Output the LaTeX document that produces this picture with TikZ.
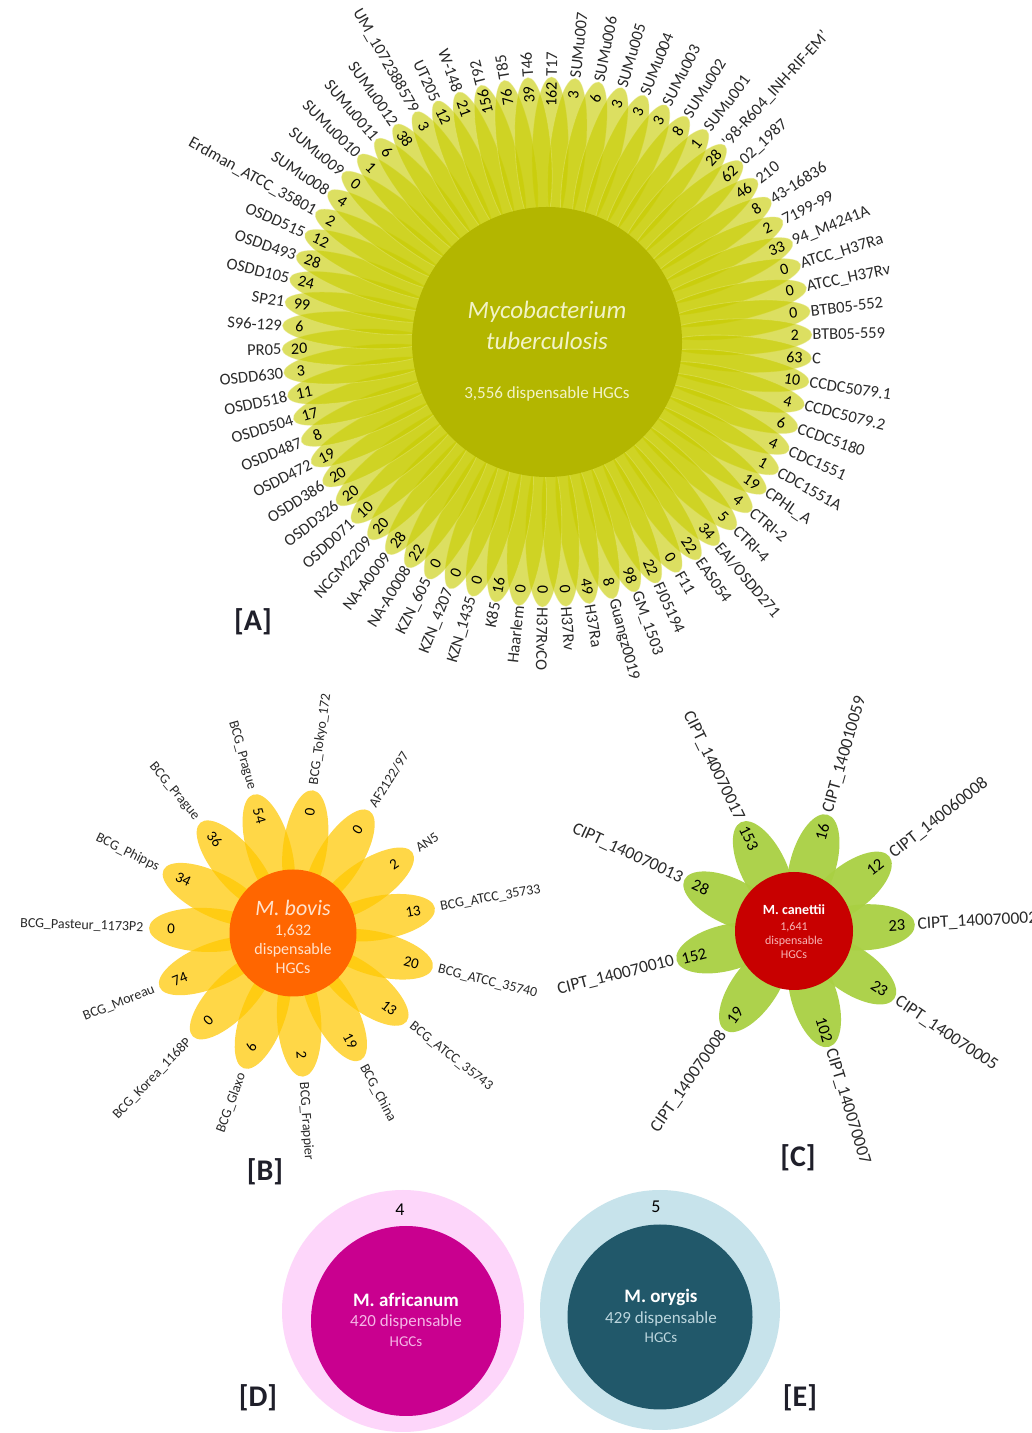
\documentclass[tikz,border=0pt]{standalone}
\usepackage{fontspec}
\setmainfont{Carlito}
\usetikzlibrary{positioning}

\definecolor{petalolive}{HTML}{C8CC00}
\definecolor{petaledge}{HTML}{E4E67A}
\definecolor{coreolive}{HTML}{B3B600}
\definecolor{coretextA}{HTML}{F2F3C6}
\definecolor{petalyellow}{HTML}{FFC800}
\definecolor{coreorange}{HTML}{FF6600}
\definecolor{coretextB}{HTML}{FFE2CC}
\definecolor{petallime}{HTML}{A9D043}
\definecolor{corered}{HTML}{C80000}
\definecolor{coretextC}{HTML}{F7B5B5}
\definecolor{ringpink}{HTML}{FDD6FA}
\definecolor{coremagenta}{HTML}{C9008F}
\definecolor{coretextD}{HTML}{F5B5E6}
\definecolor{ringblue}{HTML}{C7E3EB}
\definecolor{coreteal}{HTML}{21586A}
\definecolor{coretextE}{HTML}{BCD6DE}
\definecolor{labelgray}{HTML}{2A2A2A}
\definecolor{tagdark}{HTML}{1F1F2A}

\begin{document}
\begin{tikzpicture}[x=1pt,y=1pt]
  \tikzset{PetalAStyle/.style = {
    fill          = petalolive,
    fill opacity  = 0.62,
    draw          = petaledge,
    draw opacity  = 0.45,
    line width    = 0.8pt
    }
  }
  \tikzset{PetalBStyle/.style = {
    fill          = petalyellow,
    fill opacity  = 0.72
    }
  }
  \tikzset{PetalCStyle/.style = {
    fill          = petallime,
    fill opacity  = 0.95
    }
  }
  \tikzset{CoreStyle/.style = {
    shape         = circle,
    inner sep     = 0pt,
    outer sep     = 0pt
    }
  }
  \tikzset{StrainStyle/.style = {
    text          = labelgray,
    inner sep     = 0.5pt
    }
  }
  \tikzset{CountStyle/.style = {
    text          = black,
    inner sep     = 0pt
    }
  }
  \tikzset{TagStyle/.style = {
    text          = tagdark,
    font          = \bfseries\fontsize{30}{30}\selectfont
    }
  }

  \fill[white] (0,0) rectangle (1032,1433);
  \clip (0,0) rectangle (1032,1433);

  % [A] M. tuberculosis
  \def\mtblist{T17/162, SUMu007/3, SUMu006/6, SUMu005/3, SUMu004/3, SUMu003/3,
    SUMu002/8, SUMu001/1, '98-R604\_INH-RIF-EM'/28, 02\_1987/62, 210/46,
    43-16836/8, 7199-99/2, 94\_M4241A/33, ATCC\_H37Ra/0, ATCC\_H37Rv/0,
    BTB05-552/0, BTB05-559/2, C/63, CCDC5079.1/10, CCDC5079.2/4, CCDC5180/6,
    CDC1551/4, CDC1551A/1, CPHL\_A/19, CTRI-2/4, CTRI-4/5, {EAI/OSDD271}/34,
    EAS054/22, F11/0, FJ05194/22, GM\_1503/98, Guangz0019/8, H37Ra/49,
    H37Rv/0, H37RvCO/0, Haarlem/0, K85/16, KZN\_1435/0, KZN\_4207/0,
    KZN\_605/0, NA-A0008/22, NA-A0009/28, NCGM2209/20, OSDD071/10,
    OSDD326/20, OSDD386/20, OSDD472/19, OSDD487/8, OSDD504/17, OSDD518/11,
    OSDD630/3, PR05/20, S96-129/6, SP21/99, OSDD105/24, OSDD493/28,
    OSDD515/12, Erdman\_ATCC\_35801/2, SUMu008/4, SUMu009/0, SUMu0010/1,
    SUMu0011/6, SUMu0012/38, UM\_1072388579/3, UT205/12, W-148/21, T92/156,
    T85/76, T46/39}
  \begin{scope}[shift={(547,1091)}]
    \foreach \lab/\num [count=\i] in \mtblist {
      \pgfmathsetmacro\petang{89-(\i-1)*(360/70)}
      \filldraw[PetalAStyle, rotate=\petang] (188,0) ellipse [x radius=77, y radius=18];
    }
  \end{scope}
  \node[CoreStyle, fill=coreolive, minimum size=270pt] (mtbcore) at (547,1091) {};
  \begin{scope}[shift={(547,1091)}]
    \foreach \lab/\num [count=\i] in \mtblist {
      \pgfmathsetmacro\petang{89-(\i-1)*(360/70)}
      \pgfmathtruncatemacro\flip{and(\petang<-93,\petang>-254)}
      \ifnum\flip=1 \pgfmathsetmacro\labrot{\petang+180}\def\labanc{east}\else\let\labrot\petang\def\labanc{west}\fi
      \node[StrainStyle, font=\fontsize{16.5}{16.5}\selectfont, anchor=\labanc, rotate=\labrot] (mtb-\i) at (\petang:265) {\lab};
      \node[CountStyle, font=\fontsize{16}{16}\selectfont, rotate=\labrot] (mtbc-\i) at (\petang:248) {\num};
    }
  \end{scope}
  \node[align=center, text=coretextA, font=\itshape\fontsize{25}{31}\selectfont] (mtbname) at (547,1108) {Mycobacterium\\tuberculosis};
  \node[text=coretextA, font=\fontsize{17}{17}\selectfont] (mtbhgc) at (547,1039) {3,556 dispensable HGCs};

  % [B] M. bovis
  \def\bovlist{BCG\_Tokyo\_172/0, {AF2122/97}/0, AN5/2, BCG\_ATCC\_35733/13,
    BCG\_ATCC\_35740/20, BCG\_ATCC\_35743/13, BCG\_China/19, BCG\_Frappier/2,
    BCG\_Glaxo/6, BCG\_Korea\_1168P/0, BCG\_Moreau/74, BCG\_Pasteur\_1173P2/0,
    BCG\_Phipps/34, BCG\_Prague/36, BCG\_Prague/54}
  \begin{scope}
    \clip (0,0) rectangle (541,1433);
    \begin{scope}[shift={(293,500)}]
      \foreach \lab/\num [count=\i] in \bovlist {
        \pgfmathsetmacro\petang{82-(\i-1)*24}
        \fill[PetalBStyle, rotate=\petang] (88,0) ellipse [x radius=56, y radius=22];
      }
    \end{scope}
    \node[CoreStyle, fill=coreorange, minimum size=127pt] (bovcore) at (293,500) {};
    \begin{scope}[shift={(293,500)}]
      \foreach \lab/\num [count=\i] in \bovlist {
        \pgfmathsetmacro\petang{82-(\i-1)*24}
        \pgfmathtruncatemacro\flip{\petang<-90}
        \ifnum\flip=1 \pgfmathsetmacro\labrot{\petang+180}\def\labanc{east}\else\let\labrot\petang\def\labanc{west}\fi
        \node[StrainStyle, font=\fontsize{14}{14}\selectfont, anchor=\labanc, rotate=\labrot] (bov-\i) at (\petang:149) {\lab};
        \node[CountStyle, font=\fontsize{15}{15}\selectfont, rotate=\labrot] (bovc-\i) at (\petang:122) {\num};
      }
    \end{scope}
  \end{scope}
  \node[text=coretextB, font=\itshape\fontsize{22}{22}\selectfont] (bovname) at (293,525) {M. bovis};
  \node[align=center, text=coretextB, font=\fontsize{16}{19}\selectfont] (bovhgc) at (293,484) {1,632\\dispensable\\HGCs};

  % [C] M. canettii
  \def\canlist{74/CIPT\_140010059/16, 38/CIPT\_140060008/12, 3/CIPT\_140070002/23,
    -34/CIPT\_140070005/23, -73/CIPT\_140070007/102, -125/CIPT\_140070008/19,
    -166/CIPT\_140070010/152, -205/CIPT\_140070013/28, -244/CIPT\_140070017/153}
  \begin{scope}[shift={(794,502)}]
    \foreach \petang/\lab/\num [count=\i] in \canlist {
      \fill[PetalCStyle, rotate=\petang] (70,0) ellipse [x radius=51, y radius=23];
    }
  \end{scope}
  \node[CoreStyle, fill=corered, minimum size=118pt] (cancore) at (794,502) {};
  \begin{scope}[shift={(794,502)}]
    \foreach \petang/\lab/\num [count=\i] in \canlist {
      \pgfmathtruncatemacro\flip{\petang<-90}
      \ifnum\flip=1 \pgfmathsetmacro\labrot{\petang+180}\def\labanc{east}\else\let\labrot\petang\def\labanc{west}\fi
      \node[StrainStyle, font=\fontsize{17.5}{17.5}\selectfont, anchor=\labanc, rotate=\labrot] (can-\i) at (\petang:123) {\lab};
      \node[CountStyle, font=\fontsize{16.5}{16.5}\selectfont, rotate=\labrot] (canc-\i) at (\petang:103) {\num};
    }
  \end{scope}
  \node[text=white, font=\bfseries\fontsize{14}{14}\selectfont] (canname) at (794,523) {M. canettii};
  \node[align=center, text=coretextC, font=\fontsize{12}{14}\selectfont] (canhgc) at (794,493) {1,641\\dispensable\\HGCs};

  % [D] M. africanum
  \node[CoreStyle, fill=ringpink, minimum size=242pt] (afrring) at (403,122) {};
  \node[CoreStyle, fill=coremagenta, minimum size=190pt] (afrcore) at (406,112) {};
  \node[font=\fontsize{18}{18}\selectfont] (afrc) at (400,223) {4};
  \node[text=white, font=\bfseries\fontsize{19}{19}\selectfont] (afrname) at (406,133) {M. africanum};
  \node[text=coretextD, font=\fontsize{17}{17}\selectfont] (afrhgc) at (406,111) {420 dispensable};
  \node[text=coretextD, font=\fontsize{15}{15}\selectfont] (afrhgcs) at (406,91) {HGCs};

  % [E] M. orygis
  \node[CoreStyle, fill=ringblue, minimum size=240pt] (oryring) at (660,123) {};
  \node[CoreStyle, fill=coreteal, minimum size=185pt] (orycore) at (660,116) {};
  \node[font=\fontsize{18}{18}\selectfont] (oryc) at (656,226) {5};
  \node[text=white, font=\bfseries\fontsize{19}{19}\selectfont] (oryname) at (661,136) {M. orygis};
  \node[text=coretextE, font=\fontsize{17}{17}\selectfont] (oryhgc) at (661,114) {429 dispensable};
  \node[text=coretextE, font=\fontsize{15}{15}\selectfont] (oryhgcs) at (661,95) {HGCs};

  \node[TagStyle] (tagA) at (253,811) {[A]};
  \node[TagStyle] (tagB) at (265,261) {[B]};
  \node[TagStyle] (tagC) at (798,275) {[C]};
  \node[TagStyle] (tagD) at (258,35) {[D]};
  \node[TagStyle] (tagE) at (800,35) {[E]};
\end{tikzpicture}
\end{document}
